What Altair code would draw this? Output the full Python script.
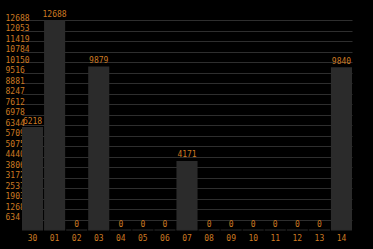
import altair as alt
import pandas as pd

days = ["30", "01", "02", "03", "04", "05", "06", "07", "08", "09", "10", "11", "12", "13", "14"]
values = [6218, 12688, 0, 9879, 0, 0, 0, 4171, 0, 0, 0, 0, 0, 0, 9840]
y_ticks = [634, 1268, 1903, 2537, 3172, 3806, 4440, 5075, 5709, 6344, 6978,
           7612, 8247, 8881, 9516, 10150, 10784, 11419, 12053, 12688]

df = pd.DataFrame({"day": days, "value": values})

ORANGE = "#cc7a22"
BAR = "#2b2b2b"
GRID = "#2e2e2e"
FONT = "DejaVu Sans Mono"

x = alt.X("day:N", sort=days,
          scale=alt.Scale(paddingInner=0.045, paddingOuter=0),
          axis=alt.Axis(title=None, labelAngle=0, ticks=False, domain=False,
                        labelColor=ORANGE, labelFont=FONT, labelFontSize=8,
                        labelPadding=4, zindex=0))
y = alt.Y("value:Q", scale=alt.Scale(domain=[0, 12688], nice=False, zero=True),
          axis=alt.Axis(title=None, values=y_ticks, tickCount=len(y_ticks) + 5,
                        ticks=False, domain=False,
                        grid=True, gridColor=GRID, gridWidth=1,
                        labelColor=ORANGE, labelFont=FONT, labelFontSize=8,
                        labelAlign="left", labelPadding=17,
                        labelBaseline="alphabetic", zindex=0,
                        labelOverlap=False, format="d"))

base = alt.Chart(df)
bars = base.mark_bar(color=BAR).encode(x=x, y=y)
zero = base.mark_tick(color=BAR, thickness=1.5, size=21).encode(
    x=alt.X("day:N", sort=days), y=alt.datum(0))
labels = base.mark_text(color=ORANGE, font=FONT, fontSize=8, baseline="alphabetic",
                        dy=-3.5).encode(
    x=alt.X("day:N", sort=days), y="value:Q", text="value:Q")

chart = alt.layer(bars, zero, labels).properties(
    width=330, height=210,
    autosize=alt.AutoSizeParams(type="none"),
    padding={"left": 22, "top": 20, "right": 21, "bottom": 19},
    background="#000000",
).configure_view(stroke=None)

chart.save("out.html", embed_options={"renderer": "svg", "actions": False})
